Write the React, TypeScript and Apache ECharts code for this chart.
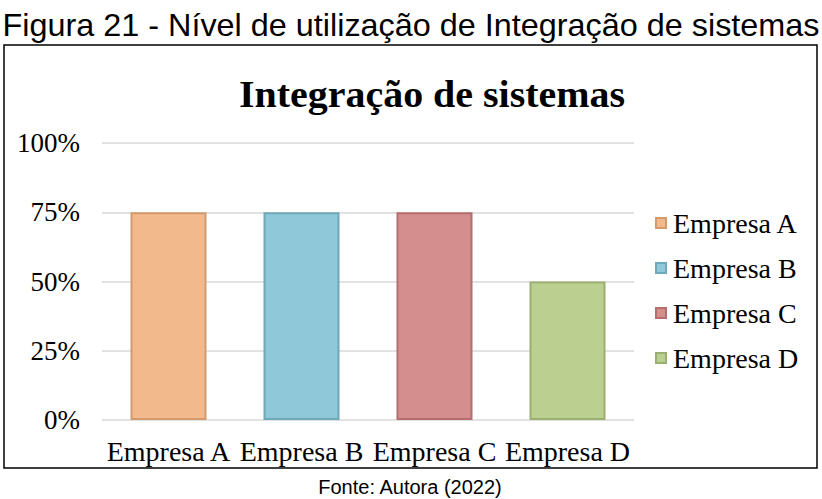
import React, { useEffect, useRef } from "react";
import * as echarts from "echarts";

const categories = ["Empresa A", "Empresa B", "Empresa C", "Empresa D"];
const values = [75, 75, 75, 50];
const colors = ["#F2BA8C", "#8FC8D8", "#D48E8D", "#BBCF91"];
const borderColors = ["#D49A6C", "#6FA8B8", "#B46E6D", "#9BAF71"];
const yTicks = [0, 25, 50, 75, 100];

export default function App() {
  const ref = useRef<HTMLDivElement>(null);
  useEffect(() => {
    if (!ref.current) return;
    const chart = echarts.init(ref.current, undefined, { renderer: "svg" });
    const serif = "'Liberation Serif', 'Times New Roman', serif";
    const sans = "'Liberation Sans', Arial, sans-serif";
    const series = categories.map((name, i) => ({
      name,
      type: "bar",
      stack: "all",
      barWidth: 76,
      data: categories.map((_, j) => (j === i ? values[i] : null)),
      itemStyle: {
        color: colors[i],
        borderColor: borderColors[i],
        borderWidth: 2,
      },
    }));
    chart.setOption({
      animation: false,
      backgroundColor: "#ffffff",
      grid: { left: 102, right: 188, top: 143, bottom: 79 },
      legend: {
        orient: "vertical",
        left: 650,
        top: 204,
        itemGap: 17,
        itemWidth: 10,
        itemHeight: 10,
        icon: "rect",
        textStyle: { fontFamily: serif, fontSize: 28, color: "#000", padding: [0, 0, 0, 2] },
        data: categories,
      },
      xAxis: {
        type: "category",
        data: categories,
        axisLine: { show: false },
        axisTick: { show: false },
        axisLabel: { fontFamily: serif, fontSize: 28, color: "#000", margin: 17, interval: 0 },
      },
      yAxis: {
        type: "value",
        min: yTicks[0],
        max: yTicks[yTicks.length - 1],
        interval: 25,
        axisLine: { show: false },
        axisTick: { show: false },
        splitLine: { lineStyle: { color: "#D9D9D9", width: 1.5 } },
        axisLabel: {
          fontFamily: serif,
          fontSize: 27,
          color: "#000",
          margin: 22,
          formatter: "{value}%",
        },
      },
      graphic: [
        {
          type: "text",
          x: 411,
          y: 25,
          scaleX: 1.045,
          style: {
            text: "Figura 21 - Nível de utilização de Integração de sistemas",
            fontFamily: sans,
            fontSize: 31,
            fill: "#000",
            align: "center",
            verticalAlign: "middle",
          },
        },
        {
          type: "text",
          x: 432,
          y: 95,
          scaleX: 1.08,
          style: {
            text: "Integração de sistemas",
            fontFamily: serif,
            fontSize: 37,
            fontWeight: "bold",
            fill: "#000",
            align: "center",
            verticalAlign: "middle",
          },
        },
        {
          type: "rect",
          shape: { x: 4, y: 45, width: 813, height: 423 },
          style: { fill: "none", stroke: "#000", lineWidth: 1.5 },
          z: 10,
        },
        {
          type: "text",
          x: 410,
          y: 487,
          style: {
            text: "Fonte: Autora (2022)",
            fontFamily: sans,
            fontSize: 20,
            fill: "#000",
            align: "center",
            verticalAlign: "middle",
          },
        },
      ],
      series,
    });
    return () => chart.dispose();
  }, []);
  return (
    <div
      ref={ref}
      style={{ position: "fixed", left: 0, top: 0, width: 822, height: 499, background: "#fff" }}
    />
  );
}
